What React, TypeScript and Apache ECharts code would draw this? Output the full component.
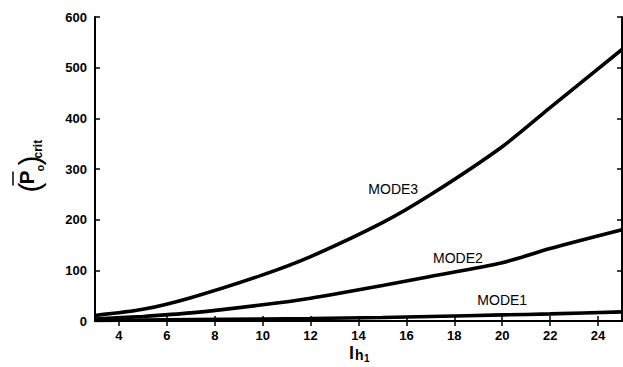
import React, { useEffect, useRef } from "react";
import * as echarts from "echarts";

// Slenderness values along the x axis
const lhValues = [3, 5, 7, 10, 12, 15, 17, 20, 22, 25];

// Critical load per buckling mode
const mode1 = [1, 2, 3, 4, 5, 7, 9, 12, 14, 18];
const mode2 = [4, 9, 16, 32, 45, 70, 88, 115, 143, 180];
const mode3 = [11, 23, 46, 91, 127, 194, 249, 344, 421, 536];

const seriesNames = ["MODE1", "MODE2", "MODE3"];
// Where each curve name sits, in data coordinates
const nameAnchors: [number, number][] = [
  [20.0, 41],
  [18.15, 124],
  [15.45, 261],
];

const xTicks = [4, 6, 8, 10, 12, 14, 16, 18, 20, 22, 24];
const yTicks = [0, 100, 200, 300, 400, 500, 600];

const FONT = "'Liberation Sans', Arial, Helvetica, sans-serif";

export default function App() {
  const ref = useRef<HTMLDivElement>(null);

  useEffect(() => {
    if (!ref.current) return;
    const chart = echarts.init(ref.current, null, { renderer: "svg" });

    const modes = [mode1, mode2, mode3];

    const axisLine = { show: true, lineStyle: { color: "#000", width: 2 } };
    const tickStyle = { show: true, inside: true, length: 5, lineStyle: { color: "#000", width: 1.5 } };

    const option: any = {
      animation: false,
      backgroundColor: "#fff",
      grid: { left: 95, right: 1, top: 17, bottom: 46, containLabel: false },
      xAxis: [
        {
          type: "value",
          min: 3,
          max: 25,
          position: "bottom",
          axisLine,
          splitLine: { show: false },
          axisLabel: {
            show: true,
            margin: 8,
            color: "#000",
            fontFamily: FONT,
            fontWeight: "bold",
            fontSize: 13,
            customValues: xTicks,
          },
          axisTick: { ...tickStyle, customValues: xTicks },
        },
        {
          type: "value",
          min: 3,
          max: 25,
          position: "top",
          axisLine,
          splitLine: { show: false },
          axisLabel: { show: false },
          axisTick: { ...tickStyle, customValues: xTicks },
        },
      ],
      yAxis: [
        {
          type: "value",
          min: 0,
          max: 600,
          interval: 100,
          position: "left",
          axisLine,
          splitLine: { show: false },
          axisTick: tickStyle,
          axisLabel: {
            show: true,
            margin: 8,
            color: "#000",
            fontFamily: FONT,
            fontWeight: "bold",
            fontSize: 13,
            customValues: yTicks,
          },
        },
        {
          type: "value",
          min: 0,
          max: 600,
          interval: 100,
          position: "right",
          axisLine,
          splitLine: { show: false },
          axisTick: tickStyle,
          axisLabel: { show: false },
        },
      ],
      series: modes.map((vals, i) => ({
        name: seriesNames[i],
        type: "line",
        xAxisIndex: 0,
        yAxisIndex: 0,
        data: lhValues.map((x, k) => [x, vals[k]]),
        smooth: 0.25,
        showSymbol: false,
        symbol: "none",
        lineStyle: { color: "#000", width: 3.6 },
        clip: true,
        markPoint: {
          silent: true,
          symbol: "circle",
          symbolSize: 0,
          data: [
            {
              coord: nameAnchors[i],
              label: {
                show: true,
                position: "inside",
                formatter: seriesNames[i],
                color: "#000",
                fontFamily: FONT,
                fontSize: 14,
              },
            },
          ],
        },
      })),
      graphic: [
        // y-axis title, reading bottom to top
        {
          type: "group",
          x: 29,
          y: 167.5,
          rotation: Math.PI / 2,
          children: [
            {
              type: "text",
              x: -25,
              y: 0,
              style: {
                text: "(",
                font: `normal 30px ${FONT}`,
                fill: "#000",
                textVerticalAlign: "middle",
                textAlign: "left",
              },
            },
            {
              type: "text",
              x: -17,
              y: -3,
              style: {
                text: "P",
                font: `bold 21px ${FONT}`,
                fill: "#000",
                textVerticalAlign: "middle",
                textAlign: "left",
              },
            },
            {
              type: "line",
              shape: { x1: -18, y1: -16, x2: -4, y2: -16 },
              style: { stroke: "#000", lineWidth: 1.5 },
            },
            {
              type: "text",
              x: -4,
              y: 11,
              style: {
                text: "o",
                font: `bold 11px ${FONT}`,
                fill: "#000",
                textVerticalAlign: "middle",
                textAlign: "left",
              },
            },
            {
              type: "text",
              x: 2,
              y: 0,
              style: {
                text: ")",
                font: `normal 30px ${FONT}`,
                fill: "#000",
                textVerticalAlign: "middle",
                textAlign: "left",
              },
            },
            {
              type: "text",
              x: 9,
              y: 9,
              style: {
                text: "crit",
                font: `bold 12px ${FONT}`,
                fill: "#000",
                textVerticalAlign: "middle",
                textAlign: "left",
              },
            },
          ],
        },
        // x-axis title
        {
          type: "group",
          x: 349,
          y: 353,
          children: [
            {
              type: "text",
              x: 0,
              y: 0,
              style: {
                text: "l",
                font: `bold 18px ${FONT}`,
                fill: "#000",
                textVerticalAlign: "middle",
                textAlign: "left",
              },
            },
            {
              type: "text",
              x: 6,
              y: 2,
              style: {
                text: "h",
                font: `bold 14px ${FONT}`,
                fill: "#000",
                textVerticalAlign: "middle",
                textAlign: "left",
              },
            },
            {
              type: "text",
              x: 15,
              y: 5,
              style: {
                text: "1",
                font: `bold 10px ${FONT}`,
                fill: "#000",
                textVerticalAlign: "middle",
                textAlign: "left",
              },
            },
          ],
        },
      ],
    };

    chart.setOption(option);
    return () => chart.dispose();
  }, []);

  return (
    <div
      ref={ref}
      style={{ position: "fixed", left: 0, top: 0, width: 623, height: 367, background: "#fff" }}
    />
  );
}
